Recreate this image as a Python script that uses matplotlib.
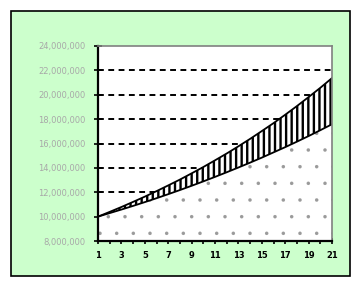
import matplotlib
matplotlib.use("Agg")
import matplotlib.pyplot as plt
from matplotlib.patches import Rectangle
from matplotlib.ticker import FuncFormatter

# ---- data ----
periods = list(range(1, 22))
lower_values = [10.00, 10.29, 10.58, 10.88, 11.19, 11.51, 11.84, 12.18, 12.53, 12.89,
                13.26, 13.64, 14.03, 14.43, 14.84, 15.27, 15.70, 16.15, 16.61, 17.09, 17.58]
upper_values = [10.00, 10.39, 10.79, 11.21, 11.64, 12.09, 12.56, 13.04, 13.55, 14.07,
                14.62, 15.18, 15.77, 16.38, 17.02, 17.67, 18.36, 19.07, 19.81, 20.57, 21.37]
lower_values = [v * 1e6 for v in lower_values]
upper_values = [v * 1e6 for v in upper_values]
y_ticks = [8e6, 10e6, 12e6, 14e6, 16e6, 18e6, 20e6, 22e6, 24e6]
x_labels = [1, 3, 5, 7, 9, 11, 13, 15, 17, 19, 21]

W, H = 364, 288
fig = plt.figure(figsize=(W / 100, H / 100), dpi=100)
fig.patch.set_facecolor("white")

# outer green frame
frame = Rectangle((11 / W, 1 - 276 / H), (350 - 11) / W, (276 - 11) / H,
                  transform=fig.transFigure, facecolor="#ccffcc",
                  edgecolor="black", linewidth=1.2, zorder=-10)
fig.patches.append(frame)

ax = fig.add_axes([98 / W, 1 - 241 / H, (332 - 98) / W, (241 - 46) / H])
ax.set_zorder(5)
ax.set_facecolor("white")
ax.set_xlim(1, 21)
ax.set_ylim(8e6, 24e6)

# gridlines
for yv in y_ticks[1:-1]:
    ax.axhline(yv, color="black", linewidth=1.4, linestyle=(0, (3, 2.3)), zorder=1)

# lower area (dotted)
base = [8e6] * len(periods)
low = ax.fill_between(periods, base, lower_values, facecolor="white",
                      edgecolor="#9a9a9a", hatch=".", linewidth=0, zorder=2)
# upper band (vertical stripes)
up = ax.fill_between(periods, lower_values, upper_values, facecolor="white",
                     edgecolor="black", hatch="|||", linewidth=0, zorder=3)
if hasattr(up, "set_hatch_linewidth"):
    up.set_hatch_linewidth(1.7)
    low.set_hatch_linewidth(0.1)
ax.plot(periods, lower_values, color="black", linewidth=1.3, zorder=4)
ax.plot(periods, upper_values, color="black", linewidth=1.3, zorder=4)

# spines
for s in ["left", "bottom"]:
    ax.spines[s].set_color("black")
    ax.spines[s].set_linewidth(1.6)
for s in ["top", "right"]:
    ax.spines[s].set_color("#808080")
    ax.spines[s].set_linewidth(1.2)
for sp in ax.spines.values():
    sp.set_zorder(6)

ax.set_yticks(y_ticks)
ax.yaxis.set_major_formatter(FuncFormatter(lambda v, p: f"{int(v):,}"))
ax.tick_params(axis="y", direction="inout", length=6, width=1.2, pad=6,
               labelsize=6, labelcolor="#a8a8a8", color="black")
ax.set_xticks(periods)
ax.set_xticklabels([str(p) if p in x_labels else "" for p in periods])
ax.tick_params(axis="x", direction="inout", length=4, width=1.2, pad=5,
               labelsize=6, labelcolor="black", color="black")
for lab in ax.get_xticklabels():
    lab.set_fontweight("bold")

fig.savefig("out.png", dpi=100, facecolor="white")
